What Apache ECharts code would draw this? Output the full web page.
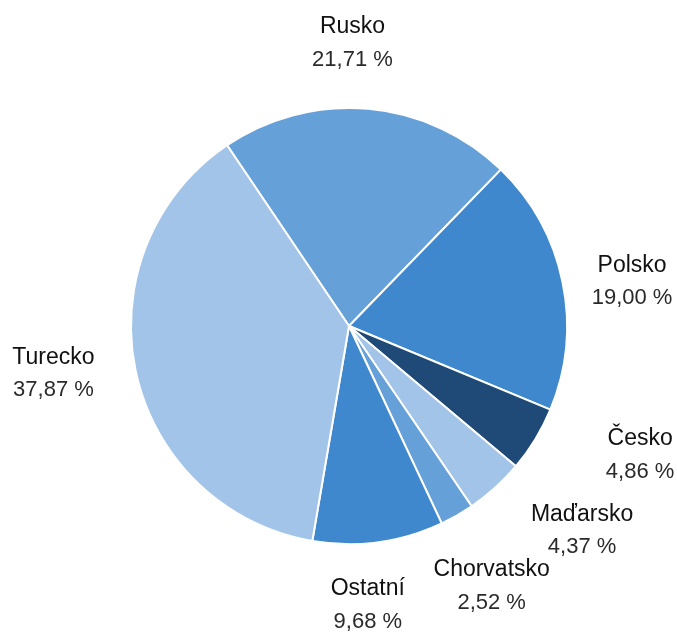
<!DOCTYPE html>
<html>
<head>
<meta charset="utf-8">
<script src="https://cdn.jsdelivr.net/npm/echarts@6/dist/echarts.min.js"></script>
<style>html,body{margin:0;padding:0;background:#fff;}#c{width:677px;height:632px;}</style>
</head>
<body>
<div id="c"></div>
<script>
const categories = ['Rusko', 'Polsko', 'Česko', 'Maďarsko', 'Chorvatsko', 'Ostatní', 'Turecko'];
const values = [21.71, 19.00, 4.86, 4.37, 2.52, 9.68, 37.87];
const colors = ['#66A0D8', '#4088CE', '#1F4A78', '#A2C4E8', '#66A0D8', '#4088CE', '#A2C4E8'];
const labelNudges = [[-22, 4], [1, 14], [45, -20], [40, -9], [0, 10], [-20, -6], [-14, -13]];

const fmt = v => v.toFixed(2).replace('.', ',') + ' %';

const chart = echarts.init(document.getElementById('c'), null, {renderer: 'canvas'});
chart.setOption({
  animation: false,
  backgroundColor: '#ffffff',
  series: [{
    type: 'pie',
    center: [349, 326],
    radius: 218,
    startAngle: 124,
    clockwise: true,
    avoidLabelOverlap: false,
    data: categories.map((n, i) => ({name: n, value: values[i], itemStyle: {color: colors[i]}})),
    itemStyle: {borderColor: '#ffffff', borderWidth: 2},
    label: {
      show: true,
      position: 'outside',
      distanceToLabelLine: 0,
      formatter: p => '{n|' + p.name + '}\n{v|' + fmt(p.value) + '}',
      rich: {
        n: {fontFamily: 'Liberation Sans, Arial, sans-serif', fontSize: 23, color: '#111111', lineHeight: 33, align: 'center'},
        v: {fontFamily: 'Liberation Sans, Arial, sans-serif', fontSize: 22, color: '#2a2a2a', lineHeight: 33, align: 'center'}
      }
    },
    labelLine: {show: false, length: 70, length2: 0},
    labelLayout: p => ({align: 'center', verticalAlign: 'middle', dx: labelNudges[p.dataIndex][0], dy: labelNudges[p.dataIndex][1]}),
    emphasis: {disabled: true}
  }]
});
</script>
</body>
</html>
